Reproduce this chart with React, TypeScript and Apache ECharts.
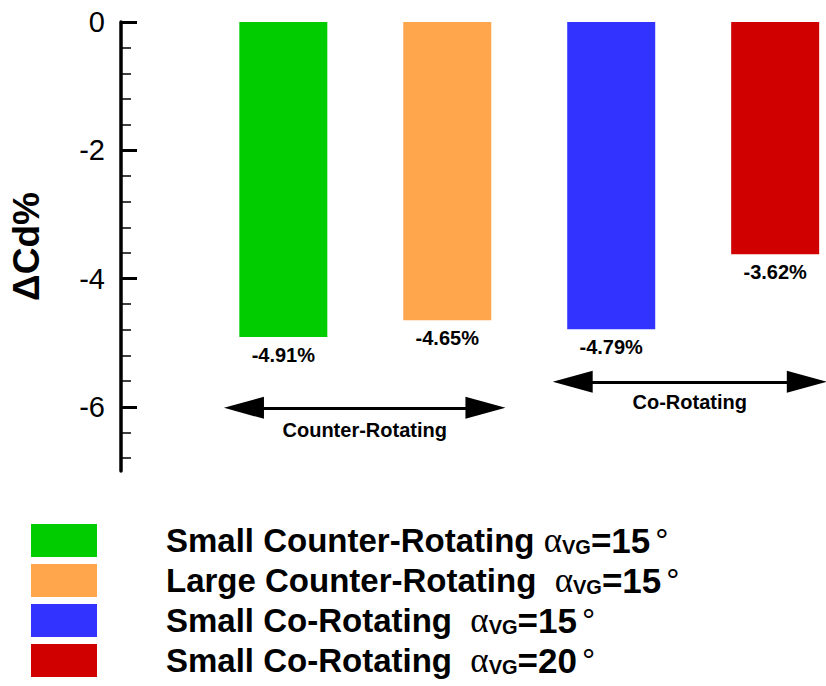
import React, { useEffect, useRef } from 'react';
import * as echarts from 'echarts';

const FONT = '"Liberation Sans", Arial, Helvetica, sans-serif';

const positions = [1, 2, 3, 4];
const values = [-4.91, -4.65, -4.79, -3.62];
const seriesNames = [
  'Small Counter-Rotating αVG=15°',
  'Large Counter-Rotating αVG=15°',
  'Small Co-Rotating αVG=15°',
  'Small Co-Rotating αVG=20°',
];
const legendPrefixes = ['Small Counter-Rotating ', 'Large Counter-Rotating  ', 'Small Co-Rotating  ', 'Small Co-Rotating  '];
const legendAngles = ['15', '15', '15', '20'];
const colors = ['#00cc00', '#ffa64d', '#3333ff', '#d00000'];
const yMajorTicks = [0, -2, -4, -6];
const yMinorTicks = [-0.4, -0.8, -1.2, -1.6, -2.4, -2.8, -3.2, -3.6, -4.4, -4.8, -5.2, -5.6, -6.4, -6.8];
const groupNames = ['Counter-Rotating', 'Co-Rotating'];
const groupFrom = [0.76, 2.765];
const groupTo = [2.233, 4.193];
const groupLevel = [-6.015, -5.61];
const groupLabelDistance = [12, 10];

export default function App() {
  const ref = useRef<HTMLDivElement>(null);
  useEffect(() => {
    if (!ref.current) return;
    const chart = echarts.init(ref.current, undefined, { renderer: 'svg' });
    const option: any = {
      animation: false,
      backgroundColor: '#ffffff',
      grid: { left: 118, top: 22, width: 708, height: 449, containLabel: false },
      xAxis: { type: 'value', min: 0.01, max: 4.31, show: false },
      yAxis: [
        {
          type: 'value', min: -7, max: 0, position: 'left',
          name: 'ΔCd%', nameLocation: 'middle', nameGap: 76, nameRotate: 90,
          nameTextStyle: { fontSize: 37, fontWeight: 'bold', color: '#000', fontFamily: FONT },
          axisLine: { show: true, lineStyle: { color: '#000', width: 3.5 } },
          axisTick: { show: true, inside: true, length: 16, lineStyle: { color: '#000', width: 3 }, customValues: yMajorTicks },
          axisLabel: { show: true, customValues: yMajorTicks, fontSize: 29, color: '#000', margin: 16, fontFamily: FONT, formatter: (v: number) => String(v) },
          splitLine: { show: false },
        },
        {
          type: 'value', min: -7, max: 0, position: 'left',
          axisLine: { show: false },
          axisTick: { show: true, inside: true, length: 10, lineStyle: { color: '#000', width: 1.5 }, customValues: yMinorTicks },
          axisLabel: { show: false },
          splitLine: { show: false },
        },
      ],
      legend: {
        orient: 'vertical', left: 31, top: 523, height: 163, padding: 0, itemWidth: 66, itemHeight: 33, itemGap: 5, icon: 'rect',
        selectedMode: false,
        data: seriesNames,
        formatter: (name: string) => {
          const i = seriesNames.indexOf(name);
          return `{p|${legendPrefixes[i]}}{a|α}{s|VG}{b|=${legendAngles[i]}}{d|°}`;
        },
        textStyle: {
          color: '#000',
          lineHeight: 33,
          rich: {
            p: { fontSize: 33, fontWeight: 'bold', fontFamily: FONT, color: '#000', lineHeight: 33, padding: [0, 0, 0, 64] },
            a: { fontSize: 35, fontFamily: '"Liberation Serif", "DejaVu Serif", serif', color: '#000', lineHeight: 33 },
            s: { fontSize: 20, fontWeight: 'bold', fontFamily: FONT, color: '#000', lineHeight: 33, verticalAlign: 'bottom' },
            b: { fontSize: 35, fontWeight: 'bold', fontFamily: FONT, color: '#000', lineHeight: 33 },
            d: { fontSize: 33, fontFamily: FONT, color: '#000', lineHeight: 33, padding: [0, 0, 0, 5] },
          },
        },
      },
      series: positions.map((x, i) => ({
        type: 'bar',
        name: seriesNames[i],
        data: [[x, values[i]]],
        barWidth: 88,
        barGap: '-100%',
        itemStyle: { color: colors[i] },
        label: {
          show: true, position: 'bottom', distance: 8,
          formatter: (p: any) => p.value[1].toFixed(2) + '%',
          color: '#000', fontSize: 20, fontWeight: 'bold', fontFamily: FONT,
        },
        emphasis: { disabled: true },
        markLine: i === 0 ? {
          silent: true,
          symbol: ['triangle', 'triangle'],
          symbolSize: [22, 40],
          lineStyle: { color: '#000', width: 3, type: 'solid' },
          emphasis: { disabled: true },
          data: groupNames.map((g, k) => [
            {
              coord: [groupFrom[k], groupLevel[k]],
              label: {
                show: true, formatter: g, position: 'insideMiddleBottom', distance: groupLabelDistance[k],
                color: '#000', fontSize: 20, fontWeight: 'bold', fontFamily: FONT,
              },
              lineStyle: { color: '#000', width: 3, type: 'solid' },
            },
            { coord: [groupTo[k], groupLevel[k]] },
          ]),
        } : undefined,
      })),
    };
    chart.setOption(option);
    return () => chart.dispose();
  }, []);
  return <div ref={ref} style={{ position: 'absolute', left: 0, top: 0, width: 826, height: 686 }} />;
}
